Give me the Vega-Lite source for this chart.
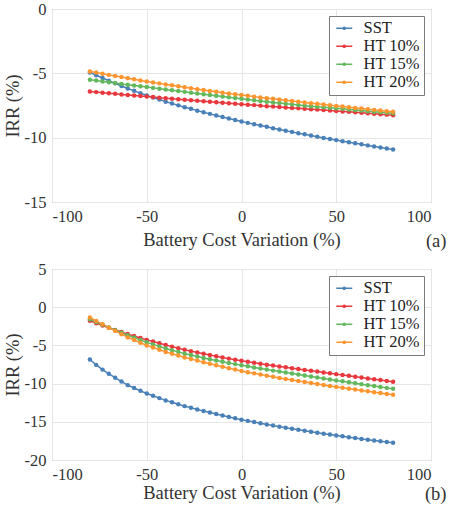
{
"$schema": "https://vega.github.io/schema/vega-lite/v6.json",
"padding": {"left": 2, "top": 0, "right": 2, "bottom": 2},
"spacing": 9,
"config": {
  "font": "Liberation Serif",
  "view": {"stroke": "#7a7a7a", "strokeWidth": 1},
  "axis": {"labelFont": "Liberation Serif", "labelFontSize": 16.5, "labelColor": "#333", "titleFont": "Liberation Serif", "titleFontSize": 18.5, "titleFontWeight": "normal", "titleColor": "#333", "gridColor": "#e6e6e6", "domain": false, "tickSize": 0, "labelPadding": 6, "labelExpr": "'' + datum.value"},
  "axisY": {"titlePadding": 2},
  "title": {"font": "Liberation Serif", "fontSize": 18.5, "fontWeight": "normal", "color": "#333"},
  "legend": {"title": null, "orient": "top-right", "offset": 7, "fillColor": "white", "strokeColor": "#7a7a7a", "padding": 4, "labelFont": "Liberation Serif", "labelFontSize": 16.5, "labelColor": "#222", "labelOffset": 14, "symbolType": "M-1,0H2.2M0.38,0A0.22,0.22,0,1,0,0.82,0A0.22,0.22,0,1,0,0.38,0Z", "symbolSize": 100, "symbolStrokeWidth": 1.5, "rowPadding": 1}
},
"datasets": {
"a": [
{"s":"SST","x":-80,"y":-4.93},{"s":"SST","x":-76.67,"y":-5.15},{"s":"SST","x":-73.33,"y":-5.36},{"s":"SST","x":-70,"y":-5.58},{"s":"SST","x":-66.67,"y":-5.78},{"s":"SST","x":-63.33,"y":-5.98},{"s":"SST","x":-60,"y":-6.18},{"s":"SST","x":-56.67,"y":-6.36},{"s":"SST","x":-53.33,"y":-6.54},{"s":"SST","x":-50,"y":-6.72},{"s":"SST","x":-46.67,"y":-6.88},{"s":"SST","x":-43.33,"y":-7.04},{"s":"SST","x":-40,"y":-7.2},{"s":"SST","x":-36.67,"y":-7.34},{"s":"SST","x":-33.33,"y":-7.49},{"s":"SST","x":-30,"y":-7.63},{"s":"SST","x":-26.67,"y":-7.76},{"s":"SST","x":-23.33,"y":-7.9},{"s":"SST","x":-20,"y":-8.03},{"s":"SST","x":-16.67,"y":-8.15},{"s":"SST","x":-13.33,"y":-8.28},{"s":"SST","x":-10,"y":-8.4},{"s":"SST","x":-6.67,"y":-8.51},{"s":"SST","x":-3.33,"y":-8.63},{"s":"SST","x":0,"y":-8.74},{"s":"SST","x":3.33,"y":-8.85},{"s":"SST","x":6.67,"y":-8.95},{"s":"SST","x":10,"y":-9.06},{"s":"SST","x":13.33,"y":-9.16},{"s":"SST","x":16.67,"y":-9.26},{"s":"SST","x":20,"y":-9.36},{"s":"SST","x":23.33,"y":-9.46},{"s":"SST","x":26.67,"y":-9.55},{"s":"SST","x":30,"y":-9.65},{"s":"SST","x":33.33,"y":-9.74},{"s":"SST","x":36.67,"y":-9.84},{"s":"SST","x":40,"y":-9.93},{"s":"SST","x":43.33,"y":-10.02},{"s":"SST","x":46.67,"y":-10.1},{"s":"SST","x":50,"y":-10.19},{"s":"SST","x":53.33,"y":-10.27},{"s":"SST","x":56.67,"y":-10.36},{"s":"SST","x":60,"y":-10.44},{"s":"SST","x":63.33,"y":-10.52},{"s":"SST","x":66.67,"y":-10.6},{"s":"SST","x":70,"y":-10.68},{"s":"SST","x":73.33,"y":-10.76},{"s":"SST","x":76.67,"y":-10.84},{"s":"SST","x":80,"y":-10.92},
{"s":"HT 10%","x":-80,"y":-6.42},{"s":"HT 10%","x":-76.67,"y":-6.46},{"s":"HT 10%","x":-73.33,"y":-6.51},{"s":"HT 10%","x":-70,"y":-6.55},{"s":"HT 10%","x":-66.67,"y":-6.59},{"s":"HT 10%","x":-63.33,"y":-6.64},{"s":"HT 10%","x":-60,"y":-6.68},{"s":"HT 10%","x":-56.67,"y":-6.72},{"s":"HT 10%","x":-53.33,"y":-6.76},{"s":"HT 10%","x":-50,"y":-6.8},{"s":"HT 10%","x":-46.67,"y":-6.84},{"s":"HT 10%","x":-43.33,"y":-6.89},{"s":"HT 10%","x":-40,"y":-6.93},{"s":"HT 10%","x":-36.67,"y":-6.97},{"s":"HT 10%","x":-33.33,"y":-7.01},{"s":"HT 10%","x":-30,"y":-7.05},{"s":"HT 10%","x":-26.67,"y":-7.09},{"s":"HT 10%","x":-23.33,"y":-7.13},{"s":"HT 10%","x":-20,"y":-7.17},{"s":"HT 10%","x":-16.67,"y":-7.21},{"s":"HT 10%","x":-13.33,"y":-7.25},{"s":"HT 10%","x":-10,"y":-7.29},{"s":"HT 10%","x":-6.67,"y":-7.33},{"s":"HT 10%","x":-3.33,"y":-7.36},{"s":"HT 10%","x":0,"y":-7.4},{"s":"HT 10%","x":3.33,"y":-7.44},{"s":"HT 10%","x":6.67,"y":-7.47},{"s":"HT 10%","x":10,"y":-7.51},{"s":"HT 10%","x":13.33,"y":-7.55},{"s":"HT 10%","x":16.67,"y":-7.58},{"s":"HT 10%","x":20,"y":-7.62},{"s":"HT 10%","x":23.33,"y":-7.65},{"s":"HT 10%","x":26.67,"y":-7.69},{"s":"HT 10%","x":30,"y":-7.72},{"s":"HT 10%","x":33.33,"y":-7.75},{"s":"HT 10%","x":36.67,"y":-7.79},{"s":"HT 10%","x":40,"y":-7.82},{"s":"HT 10%","x":43.33,"y":-7.85},{"s":"HT 10%","x":46.67,"y":-7.89},{"s":"HT 10%","x":50,"y":-7.92},{"s":"HT 10%","x":53.33,"y":-7.96},{"s":"HT 10%","x":56.67,"y":-7.99},{"s":"HT 10%","x":60,"y":-8.03},{"s":"HT 10%","x":63.33,"y":-8.07},{"s":"HT 10%","x":66.67,"y":-8.1},{"s":"HT 10%","x":70,"y":-8.14},{"s":"HT 10%","x":73.33,"y":-8.18},{"s":"HT 10%","x":76.67,"y":-8.21},{"s":"HT 10%","x":80,"y":-8.25},
{"s":"HT 15%","x":-80,"y":-5.5},{"s":"HT 15%","x":-76.67,"y":-5.56},{"s":"HT 15%","x":-73.33,"y":-5.63},{"s":"HT 15%","x":-70,"y":-5.69},{"s":"HT 15%","x":-66.67,"y":-5.75},{"s":"HT 15%","x":-63.33,"y":-5.82},{"s":"HT 15%","x":-60,"y":-5.88},{"s":"HT 15%","x":-56.67,"y":-5.94},{"s":"HT 15%","x":-53.33,"y":-6.01},{"s":"HT 15%","x":-50,"y":-6.07},{"s":"HT 15%","x":-46.67,"y":-6.13},{"s":"HT 15%","x":-43.33,"y":-6.2},{"s":"HT 15%","x":-40,"y":-6.26},{"s":"HT 15%","x":-36.67,"y":-6.32},{"s":"HT 15%","x":-33.33,"y":-6.38},{"s":"HT 15%","x":-30,"y":-6.44},{"s":"HT 15%","x":-26.67,"y":-6.5},{"s":"HT 15%","x":-23.33,"y":-6.56},{"s":"HT 15%","x":-20,"y":-6.62},{"s":"HT 15%","x":-16.67,"y":-6.68},{"s":"HT 15%","x":-13.33,"y":-6.74},{"s":"HT 15%","x":-10,"y":-6.8},{"s":"HT 15%","x":-6.67,"y":-6.86},{"s":"HT 15%","x":-3.33,"y":-6.92},{"s":"HT 15%","x":0,"y":-6.98},{"s":"HT 15%","x":3.33,"y":-7.04},{"s":"HT 15%","x":6.67,"y":-7.09},{"s":"HT 15%","x":10,"y":-7.15},{"s":"HT 15%","x":13.33,"y":-7.2},{"s":"HT 15%","x":16.67,"y":-7.26},{"s":"HT 15%","x":20,"y":-7.31},{"s":"HT 15%","x":23.33,"y":-7.36},{"s":"HT 15%","x":26.67,"y":-7.41},{"s":"HT 15%","x":30,"y":-7.46},{"s":"HT 15%","x":33.33,"y":-7.51},{"s":"HT 15%","x":36.67,"y":-7.55},{"s":"HT 15%","x":40,"y":-7.6},{"s":"HT 15%","x":43.33,"y":-7.64},{"s":"HT 15%","x":46.67,"y":-7.68},{"s":"HT 15%","x":50,"y":-7.72},{"s":"HT 15%","x":53.33,"y":-7.76},{"s":"HT 15%","x":56.67,"y":-7.81},{"s":"HT 15%","x":60,"y":-7.85},{"s":"HT 15%","x":63.33,"y":-7.89},{"s":"HT 15%","x":66.67,"y":-7.94},{"s":"HT 15%","x":70,"y":-7.98},{"s":"HT 15%","x":73.33,"y":-8.02},{"s":"HT 15%","x":76.67,"y":-8.06},{"s":"HT 15%","x":80,"y":-8.1},
{"s":"HT 20%","x":-80,"y":-4.85},{"s":"HT 20%","x":-76.67,"y":-4.94},{"s":"HT 20%","x":-73.33,"y":-5.03},{"s":"HT 20%","x":-70,"y":-5.12},{"s":"HT 20%","x":-66.67,"y":-5.21},{"s":"HT 20%","x":-63.33,"y":-5.29},{"s":"HT 20%","x":-60,"y":-5.38},{"s":"HT 20%","x":-56.67,"y":-5.46},{"s":"HT 20%","x":-53.33,"y":-5.55},{"s":"HT 20%","x":-50,"y":-5.63},{"s":"HT 20%","x":-46.67,"y":-5.71},{"s":"HT 20%","x":-43.33,"y":-5.78},{"s":"HT 20%","x":-40,"y":-5.86},{"s":"HT 20%","x":-36.67,"y":-5.93},{"s":"HT 20%","x":-33.33,"y":-6.01},{"s":"HT 20%","x":-30,"y":-6.08},{"s":"HT 20%","x":-26.67,"y":-6.15},{"s":"HT 20%","x":-23.33,"y":-6.23},{"s":"HT 20%","x":-20,"y":-6.3},{"s":"HT 20%","x":-16.67,"y":-6.37},{"s":"HT 20%","x":-13.33,"y":-6.43},{"s":"HT 20%","x":-10,"y":-6.5},{"s":"HT 20%","x":-6.67,"y":-6.56},{"s":"HT 20%","x":-3.33,"y":-6.63},{"s":"HT 20%","x":0,"y":-6.69},{"s":"HT 20%","x":3.33,"y":-6.75},{"s":"HT 20%","x":6.67,"y":-6.81},{"s":"HT 20%","x":10,"y":-6.87},{"s":"HT 20%","x":13.33,"y":-6.93},{"s":"HT 20%","x":16.67,"y":-6.98},{"s":"HT 20%","x":20,"y":-7.04},{"s":"HT 20%","x":23.33,"y":-7.1},{"s":"HT 20%","x":26.67,"y":-7.15},{"s":"HT 20%","x":30,"y":-7.21},{"s":"HT 20%","x":33.33,"y":-7.26},{"s":"HT 20%","x":36.67,"y":-7.32},{"s":"HT 20%","x":40,"y":-7.37},{"s":"HT 20%","x":43.33,"y":-7.42},{"s":"HT 20%","x":46.67,"y":-7.48},{"s":"HT 20%","x":50,"y":-7.53},{"s":"HT 20%","x":53.33,"y":-7.58},{"s":"HT 20%","x":56.67,"y":-7.64},{"s":"HT 20%","x":60,"y":-7.69},{"s":"HT 20%","x":63.33,"y":-7.74},{"s":"HT 20%","x":66.67,"y":-7.79},{"s":"HT 20%","x":70,"y":-7.84},{"s":"HT 20%","x":73.33,"y":-7.89},{"s":"HT 20%","x":76.67,"y":-7.94},{"s":"HT 20%","x":80,"y":-7.99}
],
"b": [
{"s":"SST","x":-80,"y":-6.85},{"s":"SST","x":-76.67,"y":-7.55},{"s":"SST","x":-73.33,"y":-8.17},{"s":"SST","x":-70,"y":-8.72},{"s":"SST","x":-66.67,"y":-9.23},{"s":"SST","x":-63.33,"y":-9.73},{"s":"SST","x":-60,"y":-10.2},{"s":"SST","x":-56.67,"y":-10.58},{"s":"SST","x":-53.33,"y":-10.95},{"s":"SST","x":-50,"y":-11.3},{"s":"SST","x":-46.67,"y":-11.6},{"s":"SST","x":-43.33,"y":-11.9},{"s":"SST","x":-40,"y":-12.2},{"s":"SST","x":-36.67,"y":-12.45},{"s":"SST","x":-33.33,"y":-12.7},{"s":"SST","x":-30,"y":-12.95},{"s":"SST","x":-26.67,"y":-13.17},{"s":"SST","x":-23.33,"y":-13.38},{"s":"SST","x":-20,"y":-13.6},{"s":"SST","x":-16.67,"y":-13.79},{"s":"SST","x":-13.33,"y":-13.99},{"s":"SST","x":-10,"y":-14.18},{"s":"SST","x":-6.67,"y":-14.36},{"s":"SST","x":-3.33,"y":-14.54},{"s":"SST","x":0,"y":-14.72},{"s":"SST","x":3.33,"y":-14.88},{"s":"SST","x":6.67,"y":-15.04},{"s":"SST","x":10,"y":-15.2},{"s":"SST","x":13.33,"y":-15.35},{"s":"SST","x":16.67,"y":-15.49},{"s":"SST","x":20,"y":-15.64},{"s":"SST","x":23.33,"y":-15.78},{"s":"SST","x":26.67,"y":-15.91},{"s":"SST","x":30,"y":-16.05},{"s":"SST","x":33.33,"y":-16.18},{"s":"SST","x":36.67,"y":-16.3},{"s":"SST","x":40,"y":-16.43},{"s":"SST","x":43.33,"y":-16.55},{"s":"SST","x":46.67,"y":-16.67},{"s":"SST","x":50,"y":-16.79},{"s":"SST","x":53.33,"y":-16.9},{"s":"SST","x":56.67,"y":-17.02},{"s":"SST","x":60,"y":-17.13},{"s":"SST","x":63.33,"y":-17.24},{"s":"SST","x":66.67,"y":-17.34},{"s":"SST","x":70,"y":-17.45},{"s":"SST","x":73.33,"y":-17.55},{"s":"SST","x":76.67,"y":-17.65},{"s":"SST","x":80,"y":-17.75},
{"s":"HT 10%","x":-80,"y":-1.78},{"s":"HT 10%","x":-76.67,"y":-2.09},{"s":"HT 10%","x":-73.33,"y":-2.39},{"s":"HT 10%","x":-70,"y":-2.7},{"s":"HT 10%","x":-66.67,"y":-2.97},{"s":"HT 10%","x":-63.33,"y":-3.25},{"s":"HT 10%","x":-60,"y":-3.52},{"s":"HT 10%","x":-56.67,"y":-3.77},{"s":"HT 10%","x":-53.33,"y":-4.03},{"s":"HT 10%","x":-50,"y":-4.28},{"s":"HT 10%","x":-46.67,"y":-4.5},{"s":"HT 10%","x":-43.33,"y":-4.73},{"s":"HT 10%","x":-40,"y":-4.95},{"s":"HT 10%","x":-36.67,"y":-5.16},{"s":"HT 10%","x":-33.33,"y":-5.36},{"s":"HT 10%","x":-30,"y":-5.57},{"s":"HT 10%","x":-26.67,"y":-5.75},{"s":"HT 10%","x":-23.33,"y":-5.92},{"s":"HT 10%","x":-20,"y":-6.1},{"s":"HT 10%","x":-16.67,"y":-6.26},{"s":"HT 10%","x":-13.33,"y":-6.42},{"s":"HT 10%","x":-10,"y":-6.58},{"s":"HT 10%","x":-6.67,"y":-6.73},{"s":"HT 10%","x":-3.33,"y":-6.87},{"s":"HT 10%","x":0,"y":-7.02},{"s":"HT 10%","x":3.33,"y":-7.15},{"s":"HT 10%","x":6.67,"y":-7.27},{"s":"HT 10%","x":10,"y":-7.4},{"s":"HT 10%","x":13.33,"y":-7.52},{"s":"HT 10%","x":16.67,"y":-7.64},{"s":"HT 10%","x":20,"y":-7.76},{"s":"HT 10%","x":23.33,"y":-7.87},{"s":"HT 10%","x":26.67,"y":-7.99},{"s":"HT 10%","x":30,"y":-8.1},{"s":"HT 10%","x":33.33,"y":-8.21},{"s":"HT 10%","x":36.67,"y":-8.32},{"s":"HT 10%","x":40,"y":-8.43},{"s":"HT 10%","x":43.33,"y":-8.54},{"s":"HT 10%","x":46.67,"y":-8.65},{"s":"HT 10%","x":50,"y":-8.76},{"s":"HT 10%","x":53.33,"y":-8.87},{"s":"HT 10%","x":56.67,"y":-8.98},{"s":"HT 10%","x":60,"y":-9.09},{"s":"HT 10%","x":63.33,"y":-9.2},{"s":"HT 10%","x":66.67,"y":-9.32},{"s":"HT 10%","x":70,"y":-9.43},{"s":"HT 10%","x":73.33,"y":-9.54},{"s":"HT 10%","x":76.67,"y":-9.66},{"s":"HT 10%","x":80,"y":-9.77},
{"s":"HT 15%","x":-80,"y":-1.58},{"s":"HT 15%","x":-76.67,"y":-1.94},{"s":"HT 15%","x":-73.33,"y":-2.3},{"s":"HT 15%","x":-70,"y":-2.66},{"s":"HT 15%","x":-66.67,"y":-3.0},{"s":"HT 15%","x":-63.33,"y":-3.33},{"s":"HT 15%","x":-60,"y":-3.67},{"s":"HT 15%","x":-56.67,"y":-3.98},{"s":"HT 15%","x":-53.33,"y":-4.29},{"s":"HT 15%","x":-50,"y":-4.6},{"s":"HT 15%","x":-46.67,"y":-4.87},{"s":"HT 15%","x":-43.33,"y":-5.13},{"s":"HT 15%","x":-40,"y":-5.4},{"s":"HT 15%","x":-36.67,"y":-5.63},{"s":"HT 15%","x":-33.33,"y":-5.85},{"s":"HT 15%","x":-30,"y":-6.08},{"s":"HT 15%","x":-26.67,"y":-6.27},{"s":"HT 15%","x":-23.33,"y":-6.46},{"s":"HT 15%","x":-20,"y":-6.65},{"s":"HT 15%","x":-16.67,"y":-6.82},{"s":"HT 15%","x":-13.33,"y":-6.98},{"s":"HT 15%","x":-10,"y":-7.15},{"s":"HT 15%","x":-6.67,"y":-7.3},{"s":"HT 15%","x":-3.33,"y":-7.45},{"s":"HT 15%","x":0,"y":-7.6},{"s":"HT 15%","x":3.33,"y":-7.74},{"s":"HT 15%","x":6.67,"y":-7.89},{"s":"HT 15%","x":10,"y":-8.03},{"s":"HT 15%","x":13.33,"y":-8.16},{"s":"HT 15%","x":16.67,"y":-8.3},{"s":"HT 15%","x":20,"y":-8.43},{"s":"HT 15%","x":23.33,"y":-8.56},{"s":"HT 15%","x":26.67,"y":-8.69},{"s":"HT 15%","x":30,"y":-8.82},{"s":"HT 15%","x":33.33,"y":-8.95},{"s":"HT 15%","x":36.67,"y":-9.07},{"s":"HT 15%","x":40,"y":-9.2},{"s":"HT 15%","x":43.33,"y":-9.33},{"s":"HT 15%","x":46.67,"y":-9.45},{"s":"HT 15%","x":50,"y":-9.58},{"s":"HT 15%","x":53.33,"y":-9.7},{"s":"HT 15%","x":56.67,"y":-9.83},{"s":"HT 15%","x":60,"y":-9.95},{"s":"HT 15%","x":63.33,"y":-10.07},{"s":"HT 15%","x":66.67,"y":-10.2},{"s":"HT 15%","x":70,"y":-10.32},{"s":"HT 15%","x":73.33,"y":-10.44},{"s":"HT 15%","x":76.67,"y":-10.56},{"s":"HT 15%","x":80,"y":-10.68},
{"s":"HT 20%","x":-80,"y":-1.35},{"s":"HT 20%","x":-76.67,"y":-1.79},{"s":"HT 20%","x":-73.33,"y":-2.24},{"s":"HT 20%","x":-70,"y":-2.68},{"s":"HT 20%","x":-66.67,"y":-3.1},{"s":"HT 20%","x":-63.33,"y":-3.53},{"s":"HT 20%","x":-60,"y":-3.95},{"s":"HT 20%","x":-56.67,"y":-4.3},{"s":"HT 20%","x":-53.33,"y":-4.65},{"s":"HT 20%","x":-50,"y":-5.0},{"s":"HT 20%","x":-46.67,"y":-5.28},{"s":"HT 20%","x":-43.33,"y":-5.57},{"s":"HT 20%","x":-40,"y":-5.85},{"s":"HT 20%","x":-36.67,"y":-6.09},{"s":"HT 20%","x":-33.33,"y":-6.33},{"s":"HT 20%","x":-30,"y":-6.57},{"s":"HT 20%","x":-26.67,"y":-6.78},{"s":"HT 20%","x":-23.33,"y":-6.99},{"s":"HT 20%","x":-20,"y":-7.2},{"s":"HT 20%","x":-16.67,"y":-7.4},{"s":"HT 20%","x":-13.33,"y":-7.59},{"s":"HT 20%","x":-10,"y":-7.79},{"s":"HT 20%","x":-6.67,"y":-7.98},{"s":"HT 20%","x":-3.33,"y":-8.16},{"s":"HT 20%","x":0,"y":-8.35},{"s":"HT 20%","x":3.33,"y":-8.51},{"s":"HT 20%","x":6.67,"y":-8.66},{"s":"HT 20%","x":10,"y":-8.82},{"s":"HT 20%","x":13.33,"y":-8.97},{"s":"HT 20%","x":16.67,"y":-9.11},{"s":"HT 20%","x":20,"y":-9.26},{"s":"HT 20%","x":23.33,"y":-9.4},{"s":"HT 20%","x":26.67,"y":-9.53},{"s":"HT 20%","x":30,"y":-9.67},{"s":"HT 20%","x":33.33,"y":-9.8},{"s":"HT 20%","x":36.67,"y":-9.93},{"s":"HT 20%","x":40,"y":-10.06},{"s":"HT 20%","x":43.33,"y":-10.18},{"s":"HT 20%","x":46.67,"y":-10.31},{"s":"HT 20%","x":50,"y":-10.43},{"s":"HT 20%","x":53.33,"y":-10.55},{"s":"HT 20%","x":56.67,"y":-10.66},{"s":"HT 20%","x":60,"y":-10.78},{"s":"HT 20%","x":63.33,"y":-10.89},{"s":"HT 20%","x":66.67,"y":-11.01},{"s":"HT 20%","x":70,"y":-11.12},{"s":"HT 20%","x":73.33,"y":-11.23},{"s":"HT 20%","x":76.67,"y":-11.35},{"s":"HT 20%","x":80,"y":-11.46}
]
},
"vconcat": [
{
  "width": 379, "height": 193,
  "data": {"name": "a"},
  "title": {"text": "(a)", "orient": "bottom", "anchor": "end", "dx": 15, "dy": -17, "offset": 0},
  "mark": {"type": "line", "strokeWidth": 1.5, "point": {"filled": true, "size": 20, "opacity": 1}},
  "encoding": {
    "x": {"field": "x", "type": "quantitative", "scale": {"domain": [-100, 100], "nice": false}, "axis": {"values": [-100, -50, 0, 50, 100], "title": "Battery Cost Variation (%)", "titlePadding": 6}},
    "y": {"field": "y", "type": "quantitative", "scale": {"domain": [-15, 0], "nice": false, "zero": false}, "axis": {"values": [-15, -10, -5, 0], "title": "IRR (%)"}},
    "color": {"field": "s", "type": "nominal", "sort": null, "scale": {"domain": ["SST", "HT 10%", "HT 15%", "HT 20%"], "range": ["#4a80b8", "#e8383d", "#62b85c", "#ff952e"]},
      "legend": {"encode": {"symbols": {"update": {"fill": {"scale": "color", "field": "value"}, "stroke": {"scale": "color", "field": "value"}}}}}}
  }
},
{
  "width": 379, "height": 191,
  "data": {"name": "b"},
  "title": {"text": "(b)", "orient": "bottom", "anchor": "end", "dx": 15, "dy": -17, "offset": 0},
  "mark": {"type": "line", "strokeWidth": 1.5, "point": {"filled": true, "size": 20, "opacity": 1}},
  "encoding": {
    "x": {"field": "x", "type": "quantitative", "scale": {"domain": [-100, 100], "nice": false}, "axis": {"values": [-100, -50, 0, 50, 100], "title": "Battery Cost Variation (%)", "titlePadding": 1}},
    "y": {"field": "y", "type": "quantitative", "scale": {"domain": [-20, 5], "nice": false, "zero": false}, "axis": {"values": [-20, -15, -10, -5, 0, 5], "title": "IRR (%)"}},
    "color": {"field": "s", "type": "nominal", "sort": null, "scale": {"domain": ["SST", "HT 10%", "HT 15%", "HT 20%"], "range": ["#4a80b8", "#e8383d", "#62b85c", "#ff952e"]},
      "legend": {"encode": {"symbols": {"update": {"fill": {"scale": "color", "field": "value"}, "stroke": {"scale": "color", "field": "value"}}}}}}
  }
}
],
"resolve": {"scale": {"color": "independent"}, "legend": {"color": "independent"}}
}
